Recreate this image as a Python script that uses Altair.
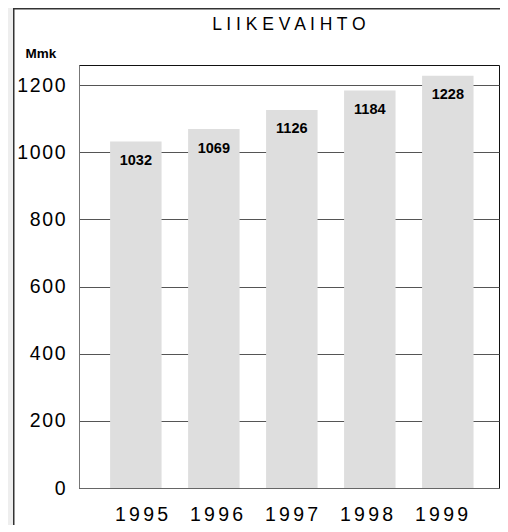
import altair as alt
import pandas as pd

years = ["1995", "1996", "1997", "1998", "1999"]
values = [1032, 1069, 1126, 1184, 1228]
y_ticks = [0, 200, 400, 600, 800, 1000, 1200]
title_text = "L I I K E V A I H T O"
unit = "Mmk"

df = pd.DataFrame({"year": years, "value": values})

FONT = "Liberation Sans"
PL, PT, PR, PB = 71, 57, 1, 37
W, H = 420, 423

bar_x = alt.X("year:N", sort=years, axis=None,
              scale=alt.Scale(paddingInner=0.34, paddingOuter=0.3625, align=0.55))
y_enc = alt.Y(
    "value:Q",
    scale=alt.Scale(domain=[0, 1260], nice=False),
    axis=alt.Axis(
        values=y_ticks, format="d", grid=True, gridColor="#555", gridWidth=1,
        ticks=False, domainColor="#777", domainWidth=1,
        labelFont=FONT, labelFontSize=19.5, labelColor="#000", labelPadding=14,
        labelExpr="join(split(datum.label, ''), '\u200a')",
        title=unit, titleAngle=0, titleX=-54, titleY=-8, titleAlign="left",
        titleBaseline="alphabetic", titleFont=FONT, titleFontSize=13.5,
        titleFontWeight="bold", titleColor="#000", zindex=0,
    ),
)

base = alt.Chart(df)
bars = base.mark_bar(color="#dedede").encode(x=bar_x, y=y_enc)
texts = base.mark_text(font=FONT, fontSize=14.5, fontWeight="bold",
                       baseline="alphabetic", dy=23.5, color="#000").encode(
    x=bar_x, y=alt.Y("value:Q"), text=alt.Text("value:Q", format="d"))

lab_x = alt.X(
    "year:N", sort=years,
    scale=alt.Scale(type="band", paddingInner=0, paddingOuter=0.3, align=0.556),
    axis=alt.Axis(orient="bottom", title=None, labelAngle=0, labelFont=FONT,
                  labelFontSize=19.5, labelColor="#000", labelBaseline="alphabetic",
                  labelPadding=32, ticks=False, tickSize=0, domainColor="#666",
                  domainWidth=1, grid=False, zindex=1,
                  labelExpr="join(split(datum.label, ''), '\u2006')"),
)
labels = base.mark_text(text="").encode(x=lab_x)

deco = alt.Data(values=[{"k": 0}])
strip = alt.Chart(deco).mark_rect(color="#eeeeee").encode(
    x=alt.value(-PL), x2=alt.value(-PL + 5), y=alt.value(-PT), y2=alt.value(H + PB))
vline = alt.Chart(deco).mark_rect(color="#333").encode(
    x=alt.value(-PL + 5), x2=alt.value(-PL + 6.5), y=alt.value(-PT), y2=alt.value(H + PB))
hline = alt.Chart(deco).mark_rect(color="#333").encode(
    x=alt.value(-PL + 5), x2=alt.value(W + PR), y=alt.value(-PT), y2=alt.value(-PT + 1.5))

chart = alt.layer(strip, vline, hline, alt.layer(bars, texts), labels).resolve_scale(
    x="independent"
).properties(
    width=W, height=H,
    autosize=alt.AutoSizeParams(type="none"),
    padding={"left": PL, "top": PT, "right": PR, "bottom": PB},
    background="white",
    title=alt.TitleParams(text=title_text, font=FONT, fontSize=17.5,
                          fontWeight="normal", color="#000", anchor="middle",
                          frame="group", offset=14, baseline="alphabetic", dy=53),
).configure_view(stroke="#111", strokeWidth=1)

chart.save("out.html", embed_options={"renderer": "svg", "actions": False})
